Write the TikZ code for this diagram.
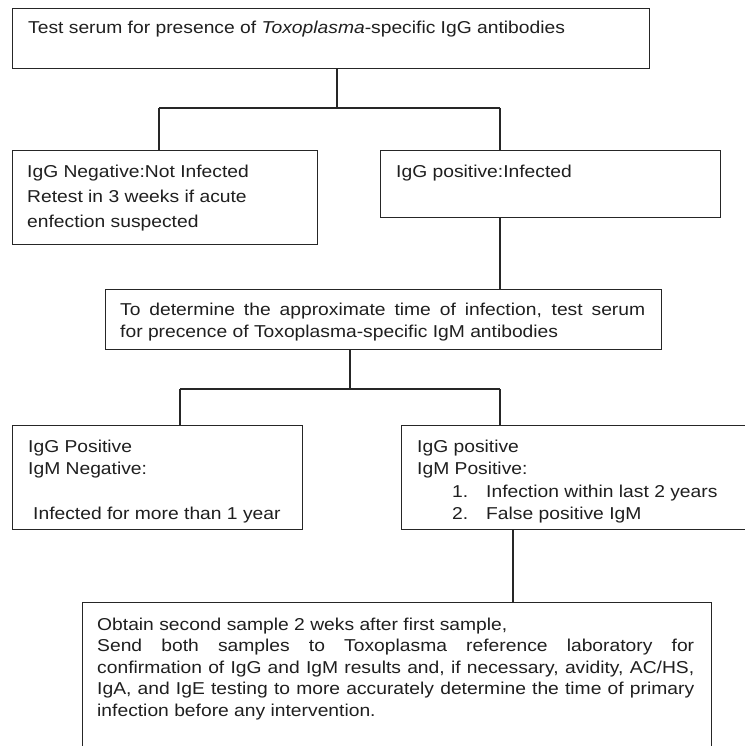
\documentclass[tikz,border=0pt]{standalone}
\usepackage{fontspec}
\setmainfont[FakeStretch=1.12]{Liberation Sans}
\newcommand\myfirst{\rule{0pt}{14pt}}
\newcommand\jline[2]{\hbox to #1{#2}}
\begin{document}
\begin{tikzpicture}[x=1pt,y=-1pt,
  box/.style={draw=black!85, line width=1.3pt, inner sep=0pt, anchor=north west},
  conn/.style={draw=black!85, line width=1.3pt},
  txt/.style={anchor=north west, inner sep=0pt, align=left, text=black!88,
              font=\fontsize{17.2}{22.5}\selectfont}]
\useasboundingbox (0,0) rectangle (744,746);
\fill[white] (0,0) rectangle (744,746);

% boxes
\node[box, minimum width=637pt, minimum height=60pt]  (top) at (12,8) {};
\node[box, minimum width=305pt, minimum height=94pt]  (neg) at (12,150) {};
\node[box, minimum width=340pt, minimum height=67pt]  (pos) at (380,150) {};
\node[box, minimum width=556pt, minimum height=60pt]  (mid) at (105,289) {};
\node[box, minimum width=290pt, minimum height=104pt] (ll)  at (12,425) {};
\node[box, minimum width=349pt, minimum height=104pt] (rl)  at (401,425) {};
\node[box, minimum width=629pt, minimum height=170pt] (bot) at (82,602) {};

% texts
\node[txt] (topt) at (28,19) {\myfirst Test serum for presence of \textit{Toxoplasma}-specific IgG antibodies};
\node[txt, font=\fontsize{17.2}{25}\selectfont] (negt) at (27,163)
  {\myfirst IgG Negative:Not Infected\\Retest in 3 weeks if acute\\enfection suspected};
\node[txt] (post) at (396,163) {\myfirst IgG positive:Infected};
\node[txt] (midt) at (120,301)
  {\myfirst\jline{525pt}{To determine the approximate time of infection, test serum}\\
   for precence of Toxoplasma-specific IgM antibodies};
\node[txt] (llt) at (28,438)
  {\myfirst IgG Positive\\IgM Negative:\\[22.5pt]\hspace*{5pt}Infected for more than 1 year};
\node[txt] (rlt) at (417,438)
  {\myfirst IgG positive\\IgM Positive:\\
   \hspace*{35pt}\makebox[34pt][l]{1.}Infection within last 2 years\\
   \hspace*{35pt}\makebox[34pt][l]{2.}False positive IgM};
\node[txt, font=\fontsize{17.2}{21.5}\selectfont] (bott) at (97,616)
  {\myfirst Obtain second sample 2 weks after first sample,\\
   \jline{597pt}{Send both samples to Toxoplasma reference laboratory for}\\
   \jline{597pt}{confirmation of IgG and IgM results and, if necessary, avidity, AC/HS,}\\
   \jline{597pt}{IgA, and IgE testing to more accurately determine the time of primary}\\
   infection before any intervention.};

% connectors
\coordinate (s1)  at (337,108);
\coordinate (s1l) at (159,108);
\coordinate (s1r) at (500,108);
\draw[conn] (top.south -| s1) -- (s1);
\draw[conn] (s1l) -- (s1r);
\draw[conn] (s1l) -- (s1l |- neg.north);
\draw[conn] (s1r) -- (s1r |- pos.north);
\draw[conn] (pos.south -| s1r) -- (s1r |- mid.north);

\coordinate (s2)  at (350,389);
\coordinate (s2l) at (180,389);
\coordinate (s2r) at (500,389);
\draw[conn] (mid.south -| s2) -- (s2);
\draw[conn] (s2l) -- (s2r);
\draw[conn] (s2l) -- (s2l |- ll.north);
\draw[conn] (s2r) -- (s2r |- rl.north);

\coordinate (s3) at (513,560);
\draw[conn] (rl.south -| s3) -- (s3 |- bot.north);
\end{tikzpicture}
\end{document}
